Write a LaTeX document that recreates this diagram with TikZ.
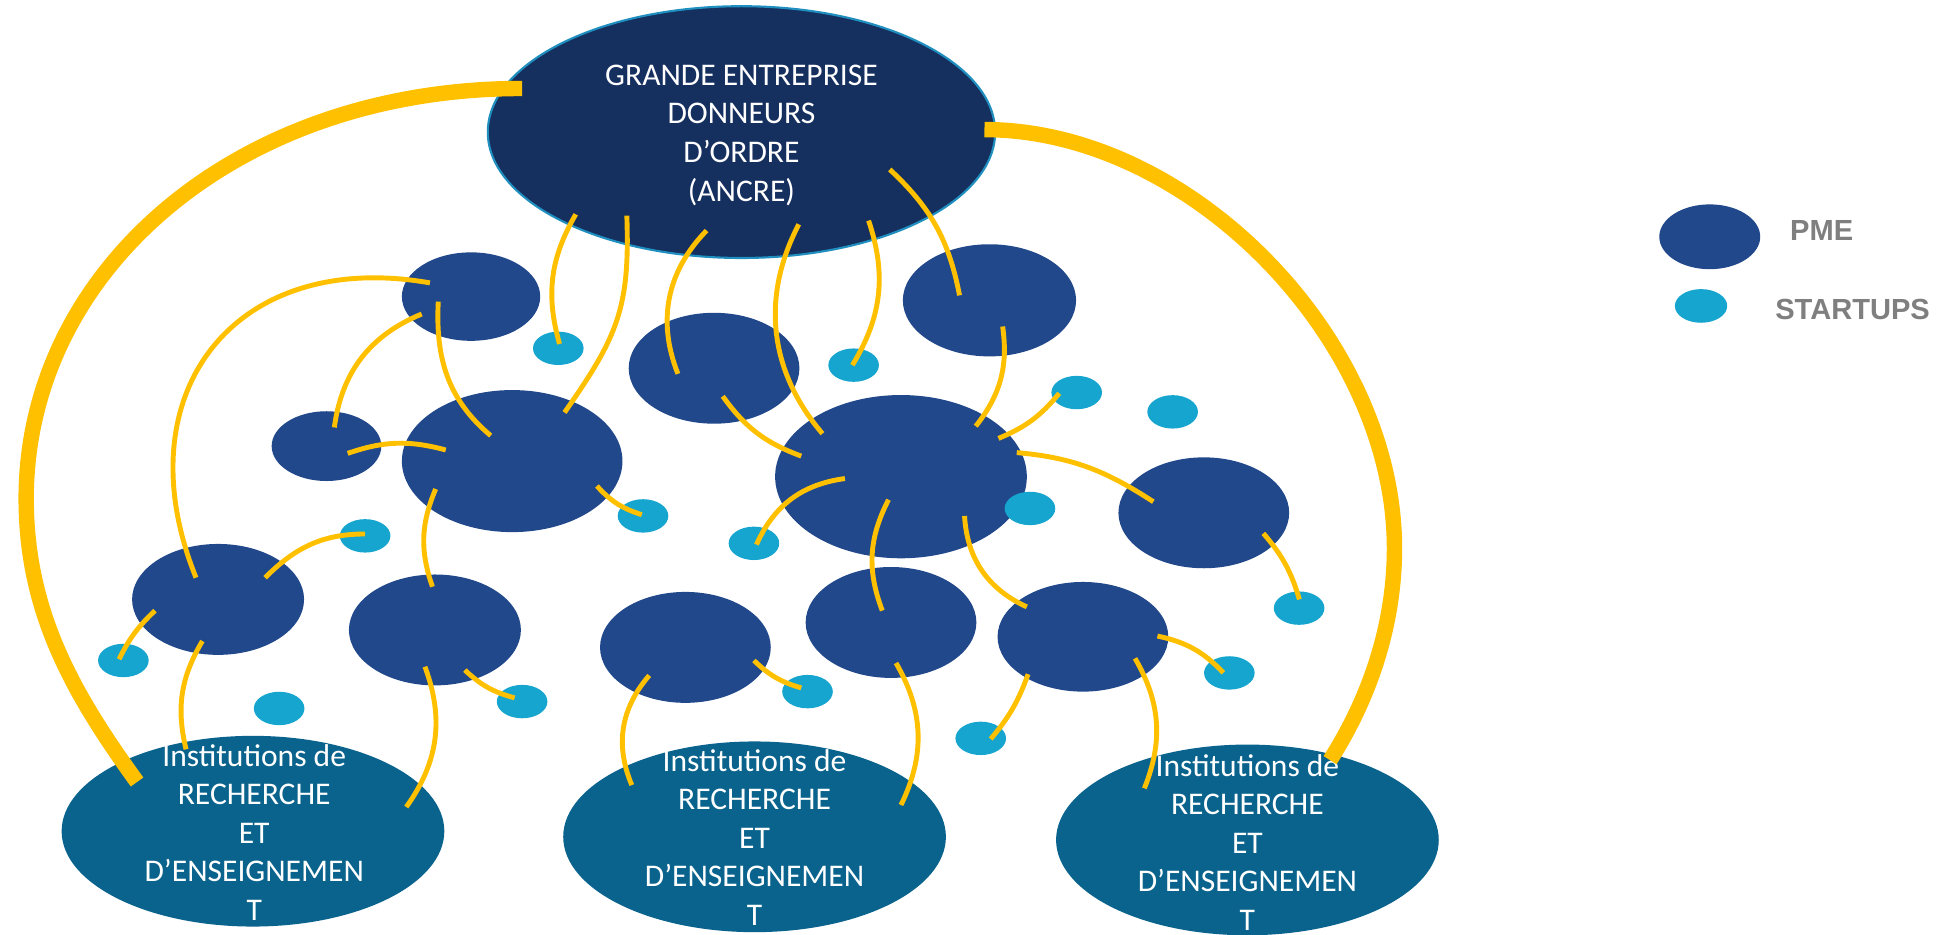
\documentclass[tikz,border=0pt]{standalone}
\usepackage{fontspec}
\setmainfont{Carlito}
\newfontfamily\legendfont{Liberation Sans}
\usetikzlibrary{shapes.geometric,calc}
\definecolor{navyanchor}{HTML}{152F5F}
\definecolor{rimblue}{HTML}{1F8FBF}
\definecolor{pmeblue}{HTML}{21488B}
\definecolor{startupblue}{HTML}{16A5CE}
\definecolor{instblue}{HTML}{0A638D}
\definecolor{ambre}{HTML}{FFC000}
\definecolor{legendgray}{HTML}{7F7F7F}
\begin{document}
\begin{tikzpicture}[x=0.0125cm, y=0.0125cm,
  pmeblob/.style 2 args={ellipse, fill=pmeblue, inner sep=0pt, minimum width={#1*0.025cm}, minimum height={#2*0.025cm}},
  startup/.style={ellipse, fill=startupblue, inner sep=0pt, minimum width=0.5075cm, minimum height=0.335cm},
  inst/.style={ellipse, fill=instblue, inner sep=0pt, minimum width=3.8375cm, minimum height=1.9125cm},
  anchorblob/.style={ellipse, fill=navyanchor, draw=rimblue, line width=0.6pt, inner sep=0pt, minimum width=5.0875cm, minimum height=2.525cm},
  whitetext/.style={text=white, align=center, font=\fontsize{9}{11}\selectfont, inner sep=0pt},
  link/.style={draw=ambre, line width=1.4pt},
  bigarc/.style={draw=ambre, line width=4.4pt},
  legendtext/.style={text=legendgray, font=\legendfont\bfseries\fontsize{8.3}{10}\selectfont, anchor=west, inner sep=0pt}
]
\useasboundingbox (0,0) rectangle (1568,-750.3);

% anchor company
\node[anchorblob] (T) at (595,-106) {};

% PME
\node[pmeblob={55.5}{35.5}] (p1) at (378,-238) {};
\node[pmeblob={68.5}{44.5}] (p2) at (573,-295.5) {};
\node[pmeblob={69.5}{45}] (p3) at (794,-241) {};
\node[pmeblob={44}{28}] (p4) at (262,-358) {};
\node[pmeblob={88.5}{57}] (p5) at (411,-370) {};
\node[pmeblob={101}{65.5}] (p6) at (723,-382.5) {};
\node[pmeblob={68.5}{44.5}] (p7) at (966,-411.5) {};
\node[pmeblob={69}{44.5}] (p8) at (175,-481) {};
\node[pmeblob={69}{44.5}] (p9) at (349,-505.5) {};
\node[pmeblob={68.5}{44.5}] (p10) at (550,-519.5) {};
\node[pmeblob={68.5}{44.5}] (p11) at (715,-499.5) {};
\node[pmeblob={68.5}{44}] (p12) at (869,-511) {};

% startups
\node[startup] (s1) at (448,-279.5) {};
\node[startup] (s2) at (685,-293) {};
\node[startup] (s3) at (864,-315) {};
\node[startup] (s4) at (941,-330.5) {};
\node[startup] (s5) at (293,-430) {};
\node[startup] (s6) at (516,-414) {};
\node[startup] (s7) at (605,-436) {};
\node[startup] (s8) at (826.5,-408) {};
\node[startup] (s9) at (1042.5,-488) {};
\node[startup] (s10) at (99,-530) {};
\node[startup] (s11) at (224,-568.5) {};
\node[startup] (s12) at (419,-563) {};
\node[startup] (s13) at (648,-555) {};
\node[startup] (s14) at (986.5,-540) {};
\node[startup] (s15) at (787,-592.5) {};

% institutions
\node[inst] (I1) at (203,-667) {};
\node[inst] (I2) at (605.5,-671.5) {};
\node[inst] (I3) at (1001,-674) {};

% texts
\node[whitetext] (Ttext) at (595,-108.5) {GRANDE ENTREPRISE\\DONNEURS\\D’ORDRE\\(ANCRE)};
\node[whitetext] (I1text) at (204,-668) {Institutions de\\RECHERCHE\\ET\\D’ENSEIGNEMEN\\T};
\node[whitetext] (I2text) at (605.5,-672) {Institutions de\\RECHERCHE\\ET\\D’ENSEIGNEMEN\\T};
\node[whitetext] (I3text) at (1001,-676) {Institutions de\\RECHERCHE\\ET\\D’ENSEIGNEMEN\\T};

% legend
\node[pmeblob={40.5}{26}] (legpme) at (1372,-190) {};
\node[startup, minimum width=0.525cm, minimum height=0.3375cm] (legstart) at (1365,-245.5) {};
\node[legendtext] (legpmetext) at (1436,-185) {PME};
\node[legendtext] (legstarttext) at (1424,-248) {STARTUPS};

% big arcs
\draw[bigarc] ($(T)+(-176,35)$) .. controls (189,-71) and (21,-218) .. (21,-400)
  to[out=-90,in=126,looseness=0.94] ($(I1)+(-93,39.5)$);
\draw[bigarc] ($(T)+(195,2)$) .. controls (954.5,-104) and (1119,-272) .. (1119,-440)
  .. controls (1119,-500) and (1100,-558.7) .. ($(I3)+(66.3,64)$);

% links from anchor
\draw[link] ($(T)+(-133,-66)$) to[bend right=23] ($(s1)+(1,3.5)$);
\draw[link] ($(T)+(-92,-67)$) to[out=-88,in=55,looseness=1.15] ($(p5)+(42,39)$);
\draw[link] ($(T)+(-28,-79)$) to[bend right=33] ($(p2)+(-29,-4.5)$);
\draw[link] ($(T)+(46,-74)$) to[bend right=34] ($(p6)+(-63,34.5)$);
\draw[link] ($(T)+(102,-71)$) to[bend left=25] ($(s2)+(-1,0)$);
\draw[link] ($(T)+(119,-30)$) to[bend left=18] ($(p3)+(-24,4)$);

% other links
\draw[link] ($(p1)+(-33,11)$) to[out=170,in=112,looseness=1.35] ($(p8)+(-17.7,17.4)$);
\draw[link] ($(p1)+(-39.6,-14)$) to[bend right=30] ($(p4)+(6.3,15)$);
\draw[link] ($(p1)+(-26.3,-4)$) to[out=-93,in=140] ($(p5)+(-17.2,20.4)$);
\draw[link] ($(p4)+(17,-5.8)$) to[bend left=17] ($(p5)+(-53.3,8.9)$);
\draw[link] ($(p2)+(7,-22.5)$) to[bend right=17] ($(p6)+(-80,16.5)$);
\draw[link] ($(p3)+(10.6,-21)$) to[bend left=23] ($(p6)+(60,40.5)$);
\draw[link] ($(p6)+(78.2,30.7)$) to[bend right=14] ($(s3)+(-14,-0.6)$);
\draw[link] ($(p6)+(92.9,19.3)$) to[out=-5,in=147] ($(p7)+(-40.5,8.9)$);
\draw[link] ($(p5)+(68,-20)$) to[bend right=15] ($(s6)+(-1,1)$);
\draw[link] ($(p6)+(-45,-1.5)$) to[bend right=29] ($(s7)+(2,-1)$);
\draw[link] ($(p6)+(-10,-18.5)$) to[bend right=24] ($(p11)+(-7,9.5)$);
\draw[link] ($(p6)+(51,-31.5)$) to[bend right=31] ($(p12)+(-45,24)$);
\draw[link] ($(p7)+(47.8,-16.5)$) to[bend left=12] ($(s9)+(0.2,7)$);
\draw[link] ($(p8)+(37.7,17.4)$) to[out=45,in=180] ($(s5)+(-0.1,1.5)$);
\draw[link] ($(p8)+(-50.6,-9)$) to[bend right=10] ($(s10)+(-3.5,1)$);
\draw[link] ($(p8)+(-12.6,-33.4)$) to[bend right=22] ($(I1)+(-53.7,65.7)$);
\draw[link] ($(p5)+(-61.4,-22.4)$) to[bend right=21] ($(p9)+(-2,34.7)$);
\draw[link] ($(p9)+(24,-32.2)$) to[bend right=14] ($(s12)+(-6,3)$);
\draw[link] ($(p9)+(-8,-29.5)$) to[bend left=28] ($(I1)+(123,19.4)$);
\draw[link] ($(p10)+(-29,-22.5)$) to[bend right=32] ($(I2)+(-98.5,41.5)$);
\draw[link] ($(p10)+(55,-10.5)$) to[bend right=14] ($(s13)+(-5,3)$);
\draw[link] ($(p11)+(4,-32.5)$) to[bend left=28] ($(I2)+(117.5,25.5)$);
\draw[link] ($(p12)+(59.8,0.6)$) to[bend left=17] ($(s14)+(-4.8,0.2)$);
\draw[link] ($(p12)+(-44,-30)$) to[bend left=10] ($(s15)+(8,-0.5)$);
\draw[link] ($(p12)+(41.8,-17.3)$) to[bend left=26] ($(I3)+(-82.7,41.4)$);
\end{tikzpicture}
\end{document}
